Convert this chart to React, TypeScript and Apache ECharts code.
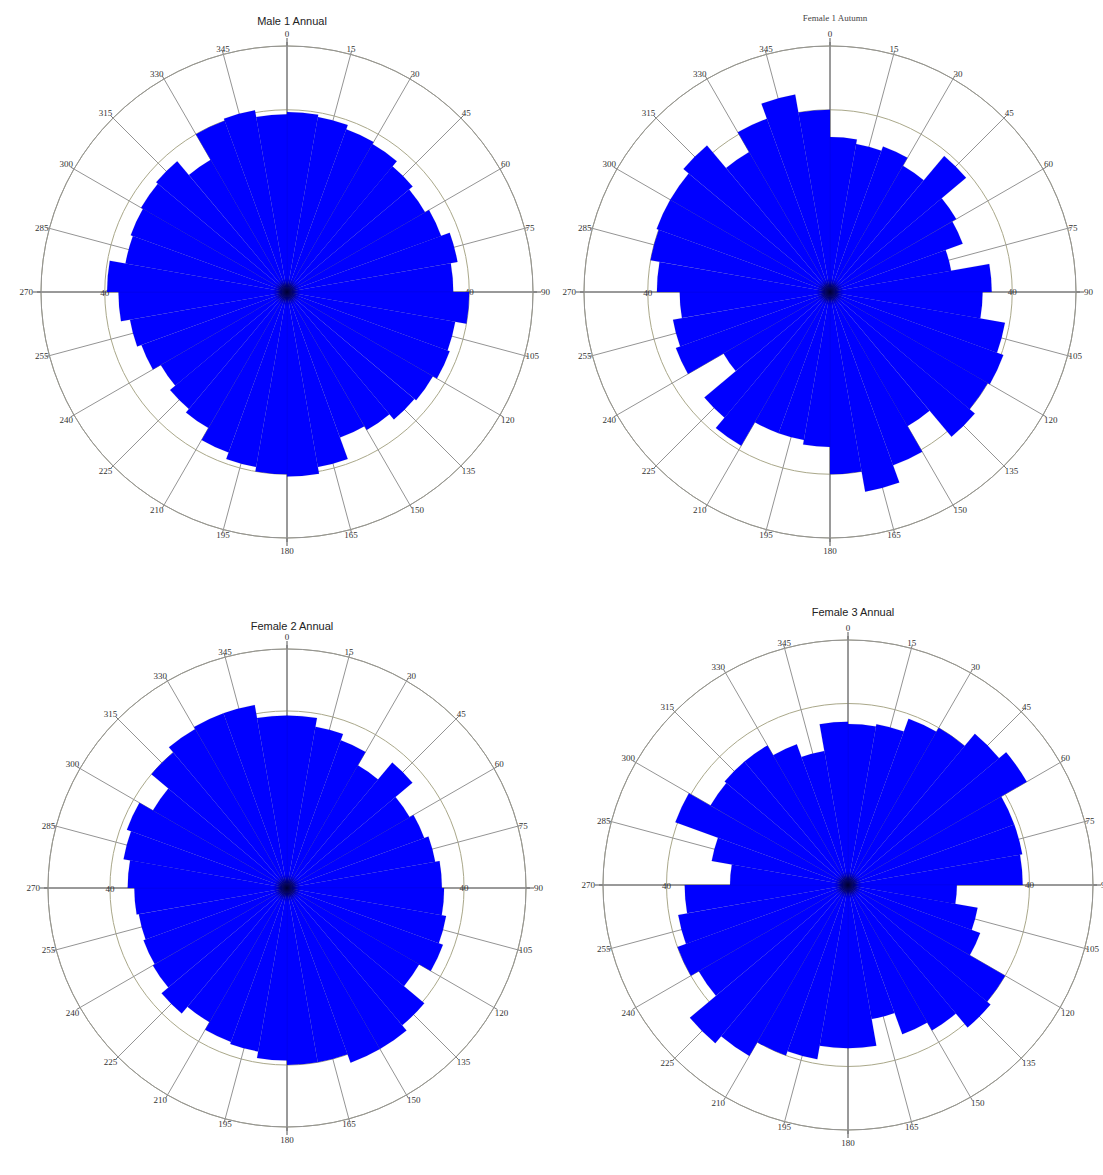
import React, { useEffect, useRef } from "react";
import * as echarts from "echarts";

// 10-degree direction bins, clockwise from north
const BINS = [
  "0-10", "10-20", "20-30", "30-40", "40-50", "50-60", "60-70", "70-80", "80-90",
  "90-100", "100-110", "110-120", "120-130", "130-140", "140-150", "150-160", "160-170", "170-180",
  "180-190", "190-200", "200-210", "210-220", "220-230", "230-240", "240-250", "250-260", "260-270",
  "270-280", "280-290", "290-300", "300-310", "310-320", "320-330", "330-340", "340-350", "350-360",
];

const TITLES = ["Male 1 Annual", "Female 1 Autumn", "Female 2 Annual", "Female 3 Annual"];

const MALE1 = [
  39.5, 39, 38, 37.5, 36, 35, 36, 38, 36.5,
  40, 37.5, 38, 37, 36.5, 35, 34, 39, 40.5,
  40, 39, 37.5, 34.5, 33.5, 32, 34, 35, 37,
  39.5, 36, 36.5, 37, 37.5, 33.5, 40, 40.5, 39,
];
const FEMALE1 = [
  34, 33, 34, 32, 39, 32, 31, 27, 35.5,
  33.5, 39, 40.5, 40, 41.5, 34, 40.5, 44.5, 40,
  34, 33, 33, 39, 36, 27, 36, 35, 33,
  38, 40, 40.5, 40.5, 42, 35.5, 40.5, 44, 40,
];
const FEMALE2 = [
  39, 37, 35.5, 32, 37, 32, 33, 34, 35,
  35.5, 36.5, 37.5, 34.5, 40.5, 42, 42, 40, 40,
  39, 37.5, 37, 35, 37, 35, 34.5, 34, 34.5,
  36, 37.5, 38.5, 35, 40, 41.5, 42, 42, 39,
];
const FEMALE3 = [
  35.5, 36, 39, 40, 43.5, 45.5, 39, 39, 38.5,
  24, 29, 31, 40, 41, 37, 35, 30, 36,
  36, 39, 40, 43.5, 45.5, 38, 40, 38, 36,
  26, 30.5, 40.5, 35, 35.5, 35.5, 33, 30, 36,
];
const SERIES = [MALE1, FEMALE1, FEMALE2, FEMALE3];

const RING_VALUE = 40; // labelled inner circle
const RADIUS_MAX = 54; // outer circle

const LAYOUT = [
  { cx: 287, cy: 292, r: 246, titleTop: 10, titleSize: 11, titleFont: "Liberation Sans", titleColor: "#222" },
  { cx: 830, cy: 292, r: 246, titleTop: 8, titleSize: 9, titleFont: "Liberation Serif", titleColor: "#444" },
  { cx: 287, cy: 888, r: 239, titleTop: 615, titleSize: 11, titleFont: "Liberation Sans", titleColor: "#222" },
  { cx: 848, cy: 885, r: 245, titleTop: 601, titleSize: 11, titleFont: "Liberation Sans", titleColor: "#222" },
];

const GRID = "#949494";
const LABEL_FONT = { fontFamily: "Liberation Serif", fontSize: 9, color: "#333" };

function buildOption() {
  const polar: any[] = [];
  const angleAxis: any[] = [];
  const radiusAxis: any[] = [];
  const series: any[] = [];
  const title: any[] = [];
  const graphic: any[] = [];

  LAYOUT.forEach((L, i) => {
    const base = i * 4;
    const center = [L.cx, L.cy];
    for (let k = 0; k < 4; k++) polar.push({ center, radius: [0, L.r] });

    // 0: bars
    angleAxis.push({
      polarIndex: base, type: "category", data: BINS, startAngle: 90, clockwise: true,
      axisLine: { show: false }, axisTick: { show: false }, axisLabel: { show: false }, splitLine: { show: false },
    });
    radiusAxis.push({
      polarIndex: base, type: "value", min: 0, max: RADIUS_MAX,
      axisLine: { show: false }, axisTick: { show: false }, axisLabel: { show: false }, splitLine: { show: false },
    });

    // 1: 15-degree grid
    angleAxis.push({
      polarIndex: base + 1, type: "value", min: 0, max: 360, interval: 15, startAngle: 90, clockwise: true,
      axisLine: { show: true, lineStyle: { color: GRID, width: 1 } },
      axisTick: { show: true, length: 4, lineStyle: { color: "#777" } },
      splitLine: { show: true, lineStyle: { color: GRID, width: 1 } },
      axisLabel: {
        show: true, margin: 1, ...LABEL_FONT,
        formatter: (v: number) => (v % 90 === 0 ? "" : String(v)),
      },
    });
    radiusAxis.push({
      polarIndex: base + 1, type: "value", min: 0, max: RADIUS_MAX, interval: RING_VALUE,
      axisLine: { show: false }, axisTick: { show: false }, axisLabel: { show: false },
      splitLine: { show: true, lineStyle: { color: "#aaa88a", width: 1 } },
    });

    // 2: cardinal cross, oriented from the west so its radius labels sit on the 270 line
    angleAxis.push({
      polarIndex: base + 2, type: "value", min: 0, max: 360, interval: 90, startAngle: 180, clockwise: true,
      axisLine: { show: false },
      axisTick: { show: true, length: 8, lineStyle: { color: "#555" } },
      splitLine: { show: true, lineStyle: { color: "#6a6a6a", width: 1 } },
      axisLabel: {
        show: true, margin: 8, ...LABEL_FONT,
        formatter: (v: number) => (v >= 360 ? "" : String((v + 270) % 360)),
      },
    });
    radiusAxis.push({
      polarIndex: base + 2, type: "value", min: 0, max: RADIUS_MAX, interval: RING_VALUE,
      axisLine: { show: false }, axisTick: { show: false }, splitLine: { show: false },
      axisLabel: { show: true, margin: -4, ...LABEL_FONT, formatter: (v: number) => (v === RING_VALUE ? String(v) : "") },
    });

    // 3: radius label on the 90 line
    angleAxis.push({
      polarIndex: base + 3, type: "value", min: 0, max: 360, startAngle: 0, clockwise: true,
      axisLine: { show: false }, axisTick: { show: false }, axisLabel: { show: false }, splitLine: { show: false },
    });
    radiusAxis.push({
      polarIndex: base + 3, type: "value", min: 0, max: RADIUS_MAX, interval: RING_VALUE,
      axisLine: { show: false }, axisTick: { show: false }, splitLine: { show: false },
      axisLabel: { show: true, margin: -4, ...LABEL_FONT, formatter: (v: number) => (v === RING_VALUE ? String(v) : "") },
    });

    series.push({
      type: "bar", coordinateSystem: "polar", polarIndex: base, name: TITLES[i],
      data: SERIES[i], barCategoryGap: "0%", z: 5,
      itemStyle: { color: "#0000ff", borderColor: "rgba(0,0,120,0.2)", borderWidth: 0.5 },
    });

    title.push({
      text: TITLES[i], left: L.cx, top: L.titleTop, textAlign: "center",
      textStyle: { fontFamily: L.titleFont, fontSize: L.titleSize, fontWeight: "normal", color: L.titleColor },
    });

    graphic.push({
      type: "circle", z: 100, silent: true,
      shape: { cx: L.cx, cy: L.cy, r: 16 },
      style: {
        fill: new echarts.graphic.RadialGradient(0.5, 0.5, 0.5, [
          { offset: 0, color: "rgba(0,0,45,0.95)" },
          { offset: 0.45, color: "rgba(0,0,80,0.7)" },
          { offset: 1, color: "rgba(0,0,255,0)" },
        ]),
      },
    });
  });

  return {
    animation: false,
    backgroundColor: "#ffffff",
    title, polar, angleAxis, radiusAxis, series, graphic,
  };
}

export default function App() {
  const ref = useRef<HTMLDivElement>(null);
  useEffect(() => {
    if (!ref.current) return;
    const chart = echarts.init(ref.current, undefined, { renderer: "svg" });
    chart.setOption(buildOption() as any);
    return () => chart.dispose();
  }, []);
  return (
    <div
      ref={ref}
      style={{ position: "absolute", left: 0, top: 0, width: 1103, height: 1175, background: "#fff" }}
    />
  );
}
